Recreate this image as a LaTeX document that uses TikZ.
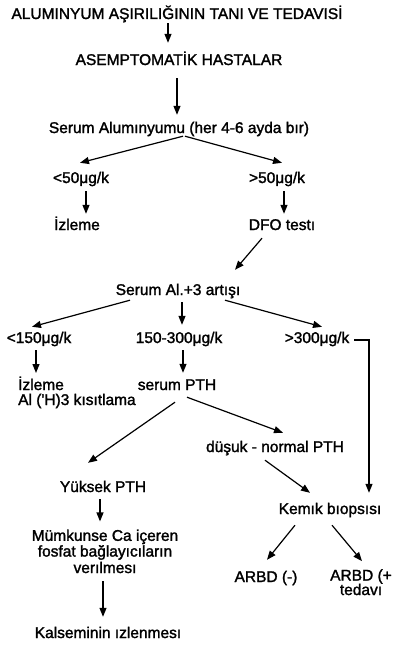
\documentclass[tikz,border=0pt]{standalone}
\usepackage{fontspec}
\setmainfont{Liberation Sans}[FakeBold=1.6]
\usetikzlibrary{arrows.meta,calc}
\begin{document}
\begin{tikzpicture}[x=1pt,y=-1pt,
  lbl/.style={font=\fontsize{15.5}{14}\selectfont, inner sep=0pt, anchor=base,
              text height=11pt, text depth=3pt},
  multi/.style={font=\fontsize{15.5}{14}\selectfont, inner sep=0pt},
  arr/.style={draw=black, line width=1.2pt, -{Triangle[length=9pt,width=7pt]}},
  link/.style={draw=black, line width=1.2pt}]
\useasboundingbox[fill=white] (0,0) rectangle (393,645);

% labels, placed on their baselines (multi-line ones on their last line)
\node[lbl] (title)  at (177,19)  {ALUMINYUM AŞIRILIĞININ TANI VE TEDAVISİ};
\node[lbl] (asym)   at (179,65)  {ASEMPTOMATİK HASTALAR};
\node[lbl] (serum)  at (179,133) {Serum Alumınyumu (her 4-6 ayda bır)};
\node[lbl] (lt50)   at (81,183)  {<50μg/k};
\node[lbl] (gt50)   at (277,183) {>50μg/k};
\node[lbl] (izl1)   at (77,230)  {İzleme};
\node[lbl] (dfo)    at (282,230) {DFO testı};
\node[lbl] (al3)    at (178,295) {Serum Al.+3 artışı};
\node[lbl] (lt150)  at (39,343)  {<150μg/k};
\node[lbl] (mid)    at (179,343) {150-300μg/k};
\node[lbl] (gt300)  at (317,343) {>300μg/k};
\node[multi, align=left, anchor=base west] (izl2) at (18,405)
     {İzleme\\[1pt]Al (\textquotesingle H)3 kısıtlama};
\node[lbl] (pth)    at (177,390) {serum PTH};
\node[lbl] (dusuk)  at (275,452) {düşuk - normal PTH};
\node[lbl] (yuksek) at (103,492) {Yüksek PTH};
\node[multi, align=center, anchor=base] (mumk) at (105,573)
     {Mümkunse Ca içeren\\fosfat bağlayıcıların\\[1pt]verılmesı};
\node[lbl] (kals)   at (108,638) {Kalseminin ızlenmesı};
\node[lbl] (kemik)  at (330,514) {Kemık bıopsısı};
\node[lbl] (arbdm)  at (266,582) {ARBD (-)};
\node[multi, align=center, anchor=base] (arbdp) at (361,595)
     {ARBD (+\\[-1pt]tedavı};

% connectors
\draw[arr] ($(title.south)+(-9,1)$)   -- ($(asym.north)+(-11,-11)$);
\draw[arr] ($(asym.south)+(-2,10)$)   -- ($(serum.north)+(-2,-7)$);
\draw[arr] ($(serum.south)+(4,0)$)    -- ($(lt50.north)+(-1,-9)$);
\draw[arr] ($(serum.south)+(6,0)$)    -- ($(gt50.north)+(5,-9)$);
\draw[arr] ($(lt50.south)+(5,5)$)     -- ($(izl1.north)+(9,-5)$);
\draw[arr] ($(gt50.south)+(7,5)$)     -- ($(dfo.north)+(2,-5)$);
\draw[arr] ($(dfo.south)+(-20,5)$)    -- ($(al3.north)+(57,-14)$);
\draw[arr] ($(al3.south)+(-48,2)$)    -- ($(lt150.north)+(-7,-5)$);
\draw[arr] ($(al3.south)+(4,4)$)      -- ($(mid.north)+(3,-7)$);
\draw[arr] ($(al3.south)+(47,2)$)     -- ($(gt300.north)+(5,-5)$);
\draw[arr] ($(gt300.east)+(5,1)$)     -| ($(kemik.north)+(39,-10)$);
\draw[arr] ($(lt150.south)+(-3,4)$)   -- ($(izl2.base west)+(18,-32)$);
\draw[arr] ($(mid.south)+(4,4)$)      -- ($(pth.north)+(6,-6)$);
\draw[arr] ($(pth.south)+(-2,9)$)     -- ($(yuksek.north)+(-15,-18)$);
\draw[arr] ($(pth.south)+(10,4)$)     -- ($(dusuk.north)+(8,-8)$);
\draw[arr] ($(dusuk.south)+(-10,5)$)  -- ($(kemik.north)+(-20,-10)$);
\draw[arr] ($(yuksek.south)+(-3,4)$)  -- ($(mumk.north)+(-5,-8)$);
\draw[arr] ($(mumk.south)+(-2,8)$)    -- ($(kals.north)+(-5,-10)$);
\draw[arr] ($(kemik.south)+(-35,8)$)  -- ($(arbdm.north)+(1,-11)$);
\draw[arr] ($(kemik.south)+(2,8)$)    -- ($(arbdp.north)+(1,-8)$);
\end{tikzpicture}
\end{document}
